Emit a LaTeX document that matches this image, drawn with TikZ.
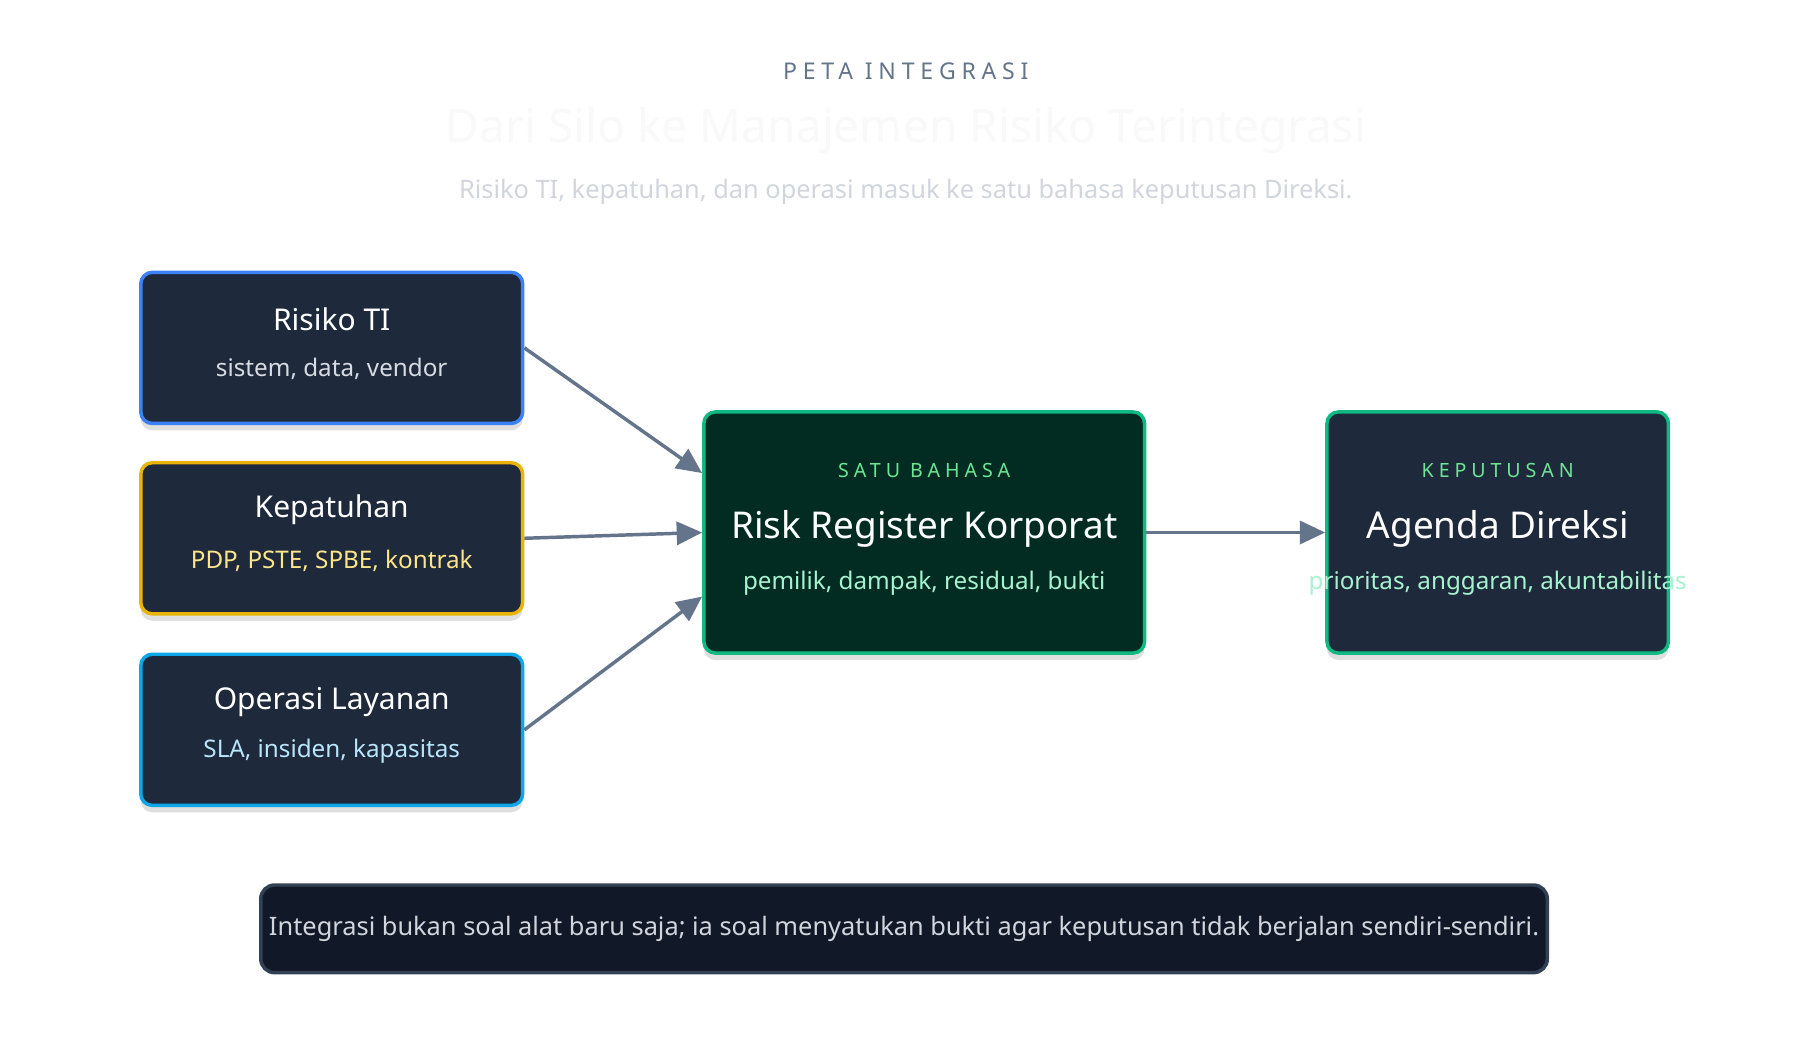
\documentclass[tikz,border=0pt]{standalone}
\usepackage{fontspec}
\setmainfont{Noto Sans}
\usetikzlibrary{arrows.meta,shadows}
\definecolor{slate}{HTML}{64748B}
\definecolor{boxfill}{HTML}{1E293B}
\definecolor{greenfill}{HTML}{022C22}
\definecolor{greenline}{HTML}{10B981}
\definecolor{noteback}{HTML}{111827}
\newcommand{\spaced}[1]{{\addfontfeature{LetterSpace=25}#1}}
\tikzset{
  srcbox/.style={draw, line width=1.5pt, fill=boxfill, rounded corners=5pt,
    minimum width=165.5pt, minimum height=65.5pt,
    drop shadow={opacity=0.25, shadow xshift=0pt, shadow yshift=-3pt}},
  hubbox/.style={srcbox, draw=greenline},
  flow/.style={draw=slate, line width=1.5pt, -{Triangle[length=11pt,width=10pt]}},
  head/.style={text=white, font=\bfseries\fontsize{13}{15}\selectfont},
  sub/.style={font=\fontsize{10.5}{12}\selectfont},
  tag/.style={text=green!40!greenline!60!white, font=\bfseries\fontsize{8.5}{10}\selectfont}
}
\begin{document}
\begin{tikzpicture}[x=0.5pt,y=-0.5pt]
\useasboundingbox[fill=white] (0,0) rectangle (1560,901);

% header
\node[text=slate, font=\bfseries\fontsize{10}{12}\selectfont] (kicker) at (785,62) {\spaced{PETA INTEGRASI}};
\node[text=gray!5, font=\bfseries\fontsize{20}{24}\selectfont] (title) at (785,113) {Dari Silo ke Manajemen Risiko Terintegrasi};
\node[text=slate!30, font=\fontsize{11}{13}\selectfont] (subtitle) at (785,166) {Risiko TI, kepatuhan, dan operasi masuk ke satu bahasa keputusan Direksi.};

% source boxes
\node[srcbox, draw={rgb,255:red,59;green,130;blue,246}] (risk) at (287.5,301.5) {};
\node[head] at (287.5,277) {Risiko TI};
\node[sub, text=slate!25] at (287.5,320) {sistem, data, vendor};

\node[srcbox, draw={rgb,255:red,234;green,179;blue,8}] (comp) at (287.5,466.5) {};
\node[head] at (287.5,442) {Kepatuhan};
\node[sub, text={rgb,255:red,253;green,230;blue,138}] at (287.5,486) {PDP, PSTE, SPBE, kontrak};

\node[srcbox, draw={rgb,255:red,14;green,165;blue,233}] (ops) at (287.5,632.5) {};
\node[head] at (287.5,608) {Operasi Layanan};
\node[sub, text={rgb,255:red,186;green,230;blue,253}] at (287.5,651) {SLA, insiden, kapasitas};

% hub and decision
\node[hubbox, fill=greenfill, minimum width=191pt, minimum height=104.5pt] (hub) at (801,461.5) {};
\node[tag] at (801,408) {\spaced{SATU BAHASA}};
\node[head, font=\bfseries\fontsize{16}{19}\selectfont] at (801,458) {Risk Register Korporat};
\node[sub, text={rgb,255:red,167;green,243;blue,208}] at (801,505) {pemilik, dampak, residual, bukti};

\node[hubbox, minimum width=148pt, minimum height=104.5pt] (agenda) at (1298,461.5) {};
\node[tag] at (1298,408) {\spaced{KEPUTUSAN}};
\node[head, font=\bfseries\fontsize{16}{19}\selectfont] at (1298,458) {Agenda Direksi};
\node[sub, text={rgb,255:red,167;green,243;blue,208}] at (1298,505) {prioritas, anggaran, akuntabilitas};

% connectors
\draw[flow] (risk.east) -- (hub.north west |- 0,410);
\draw[flow] (comp.east) -- (hub.west);
\draw[flow] (ops.east) -- (hub.north west |- 0,517);
\draw[flow] (hub.east) -- (agenda.west);

% note
\node[draw={rgb,255:red,51;green,65;blue,85}, line width=1.5pt, fill=noteback, rounded corners=6pt,
  minimum width=557.5pt, minimum height=38pt, text=slate!30, font=\fontsize{11}{13}\selectfont] (note) at (783.5,805)
  {Integrasi bukan soal alat baru saja; ia soal menyatukan bukti agar keputusan tidak berjalan sendiri-sendiri.};
\end{tikzpicture}
\end{document}
